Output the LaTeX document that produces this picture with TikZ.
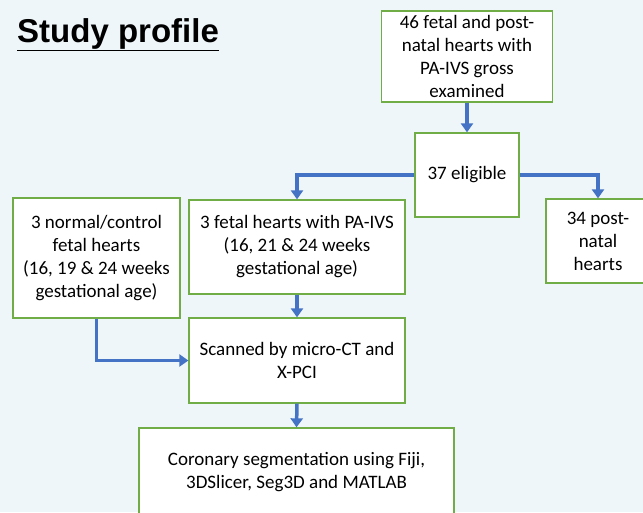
\documentclass[tikz,border=0pt]{standalone}
\usepackage{fontspec}
\setmainfont{Carlito}
\newfontfamily\titlefont{Liberation Sans}
\usetikzlibrary{arrows.meta}
\definecolor{bgc}{HTML}{EEF6F9}
\definecolor{boxline}{HTML}{70AD47}
\definecolor{arr}{HTML}{4472C4}
\tikzset{
  box/.style={draw=boxline, line width=1.3pt, fill=white, align=center, inner sep=0pt,
    font=\fontsize{19}{23}\selectfont},
  conn/.style={draw=arr, line width=3.5pt, -{Triangle[length=9pt,width=12pt]}}
}
\begin{document}
\begin{tikzpicture}[x=1pt,y=-1pt]
\fill[bgc] (0,0) rectangle (643,512);
\useasboundingbox (0,0) rectangle (643,512);
\begin{scope}
\clip (0,0) rectangle (643,512);
\node[anchor=base west, inner sep=0pt, font=\titlefont\bfseries\fontsize{33}{40}\selectfont] (title) at (17,42) {\underline{Study profile}};
\node[box, minimum width=171pt, minimum height=91pt] (A) at (467,56.5) {46 fetal and post-\\natal hearts with\\PA-IVS gross\\examined};
\node[box, minimum width=104pt, minimum height=84pt] (B) at (467,175) {37 eligible};
\node[box, minimum width=104pt, minimum height=84pt] (C) at (598,241) {34 post-\\natal\\hearts};
\node[box, minimum width=167pt, minimum height=120pt] (D) at (96.5,258) {3 normal/control\\fetal hearts\\(16, 19 \& 24 weeks\\gestational age)};
\node[box, minimum width=216pt, minimum height=94pt] (E) at (297,247) {3 fetal hearts with PA-IVS\\(16, 21 \& 24 weeks\\gestational age)};
\node[box, minimum width=216pt, minimum height=85pt] (F) at (297,360.5) {Scanned by micro-CT and\\X-PCI};
\node[box, minimum width=315pt, minimum height=88pt] (G) at (296.5,472) {Coronary segmentation using Fiji,\\3DSlicer, Seg3D and MATLAB};
\draw[conn] (A.south) -- (B.north);
\draw[conn] (B.west) -| (E.north);
\draw[conn] (B.east) -| (C.north);
\draw[conn] (E.south) -- (F.north);
\draw[conn] (D.south) |- (F.west);
\draw[conn] (F.south) -- (G.north);
\end{scope}
\end{tikzpicture}
\end{document}
